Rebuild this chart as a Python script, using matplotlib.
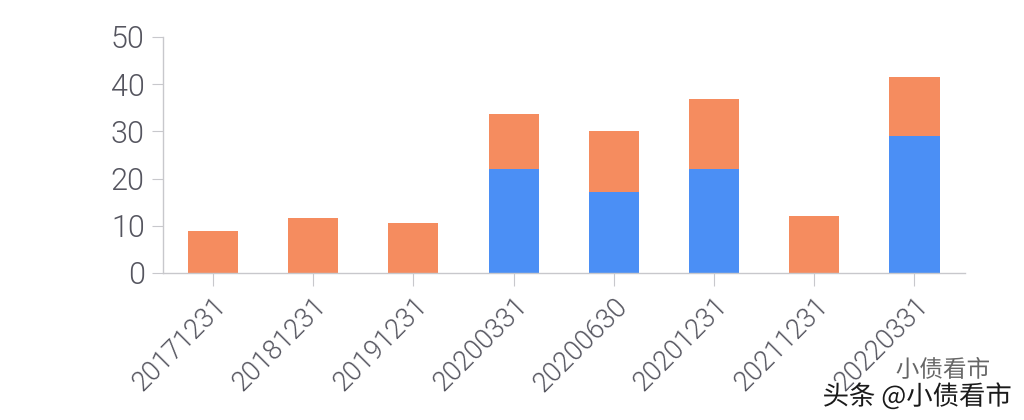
import matplotlib
matplotlib.use('Agg')
import matplotlib.pyplot as plt
import matplotlib.patheffects as pe
import numpy as np

# data
dates = ['20171231', '20181231', '20191231', '20200331',
         '20200630', '20201231', '20211231', '20220331']
blue_vals = [0, 0, 0, 22.0, 17.2, 22.0, 0, 29.0]
orange_vals = [8.9, 11.6, 10.6, 11.7, 12.9, 14.9, 12.1, 12.5]

BLUE = '#4B8FF5'
ORANGE = '#F58C5F'
TEXT_GREY = '#55555f'
AXIS_GREY = '#c8c8cc'

plt.rcParams['font.family'] = ['Roboto', 'Noto Sans CJK SC', 'DejaVu Sans']

fig = plt.figure(figsize=(10.24, 4.2), dpi=100)
ax = fig.add_axes([0.159, 0.35, 0.783, 0.562])

x = np.arange(len(dates))
ax.bar(x, blue_vals, width=0.5, color=BLUE, zorder=2)
ax.bar(x, orange_vals, width=0.5, bottom=blue_vals, color=ORANGE, zorder=2)

ax.set_xlim(-0.5, len(dates) - 0.5)
ax.set_ylim(0, 50)
ax.set_yticks([0, 10, 20, 30, 40, 50])
ax.set_xticks(x)
ax.set_xticklabels(dates, rotation=45, ha='right', rotation_mode='anchor')

for s in ['top', 'right']:
    ax.spines[s].set_visible(False)
for s in ['left', 'bottom']:
    ax.spines[s].set_color(AXIS_GREY)
    ax.spines[s].set_linewidth(1.0)

ax.tick_params(axis='y', length=8, color=AXIS_GREY, labelcolor=TEXT_GREY,
               labelsize=22, pad=5)
ax.tick_params(axis='x', length=9, color=AXIS_GREY, labelcolor=TEXT_GREY,
               labelsize=19.5, pad=5)
for t in ax.get_yticklabels() + ax.get_xticklabels():
    t.set_fontweight(300)

# watermark
cjk = ['Noto Sans CJK SC', 'DejaVu Sans']
fig.text(0.967, 0.118, '小债看市', ha='right', va='center', fontsize=17,
         color='#666666', family=cjk,
         path_effects=[pe.withStroke(linewidth=3, foreground='white')])
fig.text(0.988, 0.055, '头条 @小债看市', ha='right', va='center', fontsize=19,
         color='#1a1a1a', family=cjk,
         path_effects=[pe.withStroke(linewidth=3, foreground='white')])

fig.savefig('out.png', dpi=100)
